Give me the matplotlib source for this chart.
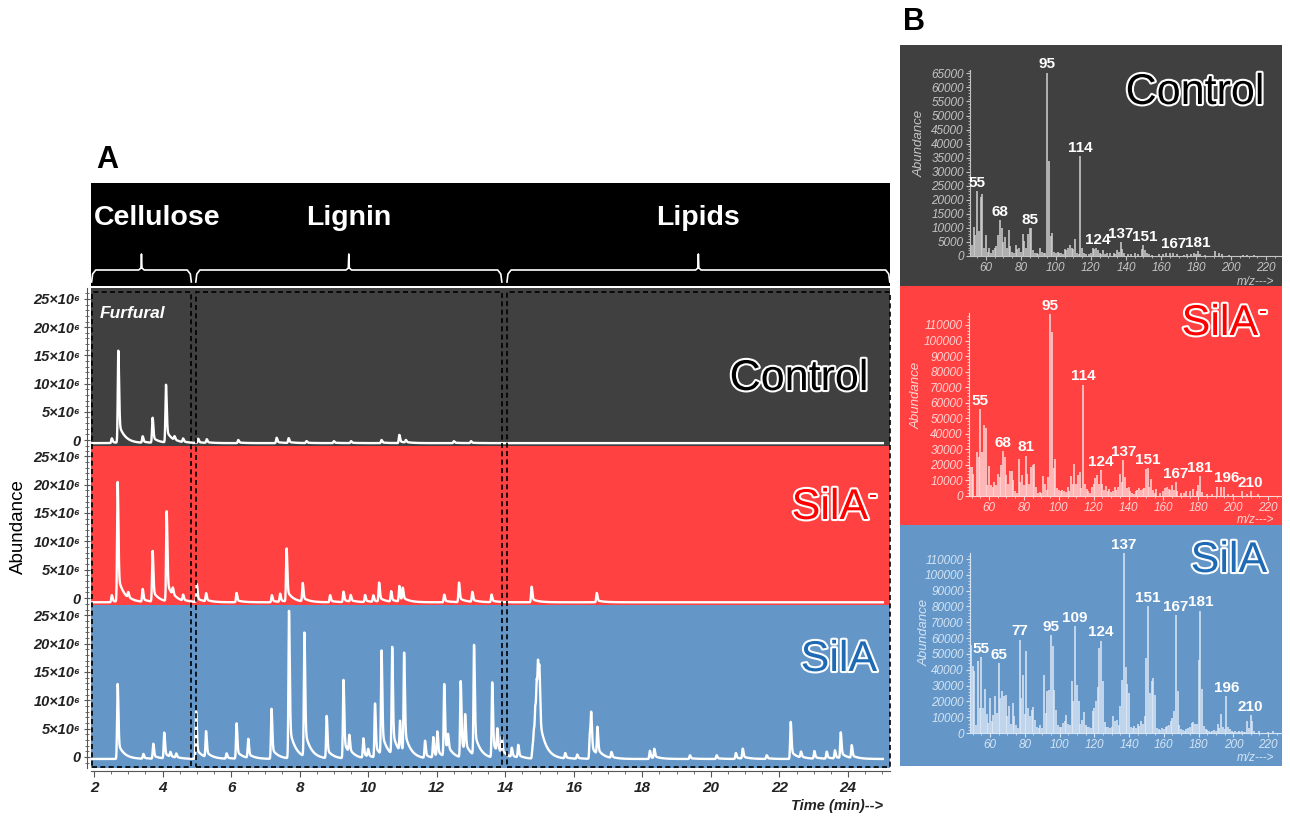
import numpy as np
import matplotlib.pyplot as plt
import matplotlib.patheffects as pe
from matplotlib.patches import Rectangle
from matplotlib.ticker import MultipleLocator

plt.rcParams['font.family'] = ['Liberation Sans', 'DejaVu Sans']

# ---------------- A: total ion chromatograms ----------------
# retention time (min) and apex abundance (x10^6) of the peaks
control_rt = [2.52, 2.71, 3.42, 3.71, 4.10, 4.35, 4.60, 5.04, 5.29, 6.21, 7.33, 7.68,
              8.20, 9.00, 9.50, 10.39, 10.91, 11.10, 12.50, 13.00]
control_ab = [0.3, 15.8, 0.6, 3.9, 9.7, 0.1, 0.1, 0.2, 0.1, 0.0, 0.4, 0.3,
              -0.2, -0.2, -0.2, 0.0, 0.9, -0.1, -0.2, -0.2]

silam_rt = [2.52, 2.69, 3.00, 3.42, 3.71, 4.12, 4.30, 4.60, 5.00, 5.27, 6.16, 7.19,
            7.43, 7.62, 8.09, 8.89, 9.28, 9.49, 9.91, 10.15, 10.32, 10.67, 10.91,
            11.01, 12.22, 12.65, 13.04, 13.60, 14.77, 16.67]
silam_ab = [0.5, 20.4, 0.2, 1.5, 8.2, 15.1, 0.5, 0.3, 2.4, 0.7, 0.9, 0.5,
            0.7, 8.6, 2.5, 0.5, 1.1, 0.4, 0.5, 0.4, 2.6, 1.1, 2.0,
            1.4, 0.6, 2.7, 1.0, 0.6, 2.0, 0.9]

sila_rt = [2.69, 3.44, 3.73, 4.05, 4.23, 4.40, 4.98, 5.27, 5.87, 6.16, 6.50, 7.18,
           7.69, 8.14, 8.79, 9.28, 9.45, 9.86, 10.00, 10.20, 10.39, 10.70, 10.93,
           11.05, 11.66, 11.90, 12.02, 12.22, 12.33, 12.70, 12.83, 13.09, 13.62,
           13.77, 13.90, 14.19, 14.38, 14.80, 14.84, 14.88, 14.92, 14.96, 15.00,
           15.75, 16.10, 16.47, 16.51, 16.69, 17.10, 18.22, 18.35, 19.39, 20.17,
           20.73, 20.93, 21.63, 22.33, 22.63, 23.02, 23.38, 23.62, 23.79, 24.11]
sila_ab = [12.9, 0.5, 2.3, 4.2, 0.5, 0.4, 8.0, 4.2, 0.6, 5.9, 3.0, 8.5,
           25.7, 21.5, 7.1, 13.5, 2.7, 3.1, 1.0, 9.2, 18.0, 18.6, 5.0,
           17.1, 2.7, 3.3, 4.0, 12.4, 2.3, 13.1, 6.0, 19.1, 12.9,
           3.7, 2.5, 1.3, 1.9, 2.0, 4.0, 7.0, 10.0, 11.5, 9.0,
           0.6, 0.4, 4.0, 6.5, 4.5, 0.7, 1.1, 1.3, 0.3, 0.3,
           0.7, 1.4, 0.3, 6.2, 0.7, 1.0, 0.9, 1.1, 4.2, 1.9]

baselines = [-0.55e6, -0.75e6, -0.35e6]

region_names = ['Cellulose', 'Lignin', 'Lipids']
region_start = [1.93, 4.97, 14.05]
region_end = [4.84, 13.90, 25.22]

abund_ticks = [0, 5e6, 10e6, 15e6, 20e6, 25e6]
abund_labels = ['0', '5×10⁶', '10×10⁶', '15×10⁶', '20×10⁶', '25×10⁶']

# ---------------- B: mass spectra ----------------
ctrl_mz = [51, 52, 53, 54, 55, 56, 57, 58, 59, 60, 61, 62, 63, 64, 65, 66, 67, 68, 69, 70,
           71, 72, 73, 74, 75, 76, 77, 78, 79, 80, 81, 82, 83, 84, 85, 86, 87, 88, 89, 90,
           91, 92, 93, 94, 95, 96, 97, 98, 99, 100, 101, 102, 103, 104, 105, 106, 107, 108,
           109, 110, 111, 112, 113, 114, 115, 116, 117, 119, 120, 121, 122, 123, 124, 125,
           126, 127, 128, 129, 131, 133, 134, 135, 136, 137, 138, 139, 141, 143, 145, 147,
           149, 150, 151, 152, 153, 155, 159, 161, 163, 165, 167, 169, 173, 175, 177, 179,
           180, 181, 182, 185, 191, 193, 195, 199, 207, 209, 213]
ctrl_int = [5700, 4000, 10400, 7500, 23000, 9000, 21000, 22000, 3000, 7500, 1500, 3000,
            1200, 2000, 3000, 3500, 7500, 12800, 10000, 5000, 6800, 3000, 9200, 3500, 1500,
            1000, 4000, 2500, 3000, 1500, 7800, 5500, 3000, 8000, 9800, 9800, 2000, 1000,
            1200, 800, 2800, 1500, 1200, 1200, 65300, 33800, 7000, 8200, 1500, 1200, 1500,
            1200, 1000, 800, 2500, 2000, 2800, 4000, 3000, 2500, 6200, 1200, 800, 35500,
            3000, 1000, 800, 800, 1200, 2800, 2500, 2800, 2000, 1200, 800, 2000, 800, 1200,
            1000, 1000, 800, 2200, 1500, 5000, 2500, 1000, 600, 600, 1000, 800, 2500, 3800,
            2200, 1200, 600, 500, 600, 800, 1000, 1000, 1200, 600, 500, 800, 600, 1000, 800,
            1800, 800, 500, 1800, 1000, 600, 500, 500, 500, 300]
ctrl_labels = [55, 68, 85, 95, 114, 124, 137, 151, 167, 181]

silam_mz = [49, 50, 51, 53, 54, 55, 56, 57, 58, 59, 60, 61, 62, 63, 64, 65, 66, 67, 68,
            69, 70, 71, 72, 73, 74, 75, 76, 77, 78, 79, 80, 81, 82, 83, 84, 85, 86, 87, 88,
            89, 90, 91, 92, 93, 94, 95, 96, 97, 98, 99, 100, 101, 102, 103, 104, 105, 106,
            107, 108, 109, 110, 111, 112, 113, 114, 115, 116, 117, 118, 119, 120, 121, 122,
            123, 124, 125, 126, 127, 128, 129, 130, 131, 132, 133, 134, 135, 136, 137, 138,
            139, 140, 141, 142, 143, 144, 145, 146, 147, 148, 149, 150, 151, 152, 153, 154,
            155, 156, 158, 160, 161, 162, 163, 164, 165, 166, 167, 168, 170, 172, 173, 175,
            177, 179, 180, 181, 182, 185, 188, 191, 193, 195, 197, 200, 205, 208, 210, 214]
silam_int = [18700, 18700, 14400, 28400, 25100, 55800, 28400, 45500, 43800, 7300, 19100,
             7000, 5500, 9000, 6900, 14400, 12200, 19800, 29000, 25100, 13300, 8000, 15900,
             15900, 10000, 3500, 2000, 23600, 9000, 13300, 7000, 25800, 14400, 8000, 18700,
             19800, 20800, 5500, 2000, 2500, 2000, 12900, 8000, 4000, 12200, 116800, 105700,
             18000, 24000, 5000, 4000, 3500, 4000, 3500, 2500, 5500, 3500, 12900, 8000,
             20800, 8000, 13300, 15500, 5000, 71700, 8000, 4500, 3000, 2000, 5500, 8000,
             11600, 13300, 8000, 16500, 7500, 4000, 6500, 3000, 4500, 2500, 3500, 5500, 4000,
             5500, 14400, 9000, 23000, 12200, 5000, 5500, 3000, 2000, 1500, 3500, 4000, 5000,
             4000, 4500, 5000, 17200, 18000, 6000, 10700, 4000, 2000, 4500, 2000, 3500, 5000,
             5500, 4500, 4000, 7000, 4000, 9000, 3500, 2000, 2000, 3500, 3500, 4500, 3500,
             7300, 12900, 2500, 1500, 1500, 5500, 5500, 6000, 1500, 1500, 3500, 1500, 3000,
             1000]
silam_labels = [55, 68, 81, 95, 114, 124, 137, 151, 167, 181, 196, 210]

sila_mz = list(range(49, 213)) + [215, 220, 223]
sila_int = [55800, 42100, 39000, 5000, 45700, 15800, 47800, 15800, 28000, 12000, 6300,
            22100, 7400, 11600, 23200, 12600, 44200, 22100, 26800, 23200, 24200, 10500,
            16900, 6000, 19000, 10500, 5000, 3000, 59000, 22100, 36900, 12000, 51600, 15800,
            10500, 14700, 16200, 8400, 4000, 3000, 5000, 3000, 36900, 12600, 26300, 27400,
            61700, 54800, 27400, 14700, 5000, 4000, 3500, 6300, 7400, 11200, 6000, 5000,
            32700, 20400, 67400, 30500, 20400, 6000, 8000, 13100, 5000, 3500, 4000, 3000,
            14100, 15800, 20400, 28900, 53700, 58400, 32700, 7000, 4000, 3500, 3000, 4000,
            10500, 7500, 8000, 5000, 16900, 33700, 113800, 41500, 31000, 25300, 4000, 3000,
            4500, 3000, 6000, 4500, 7500, 5500, 10500, 47400, 80100, 25300, 32700, 34800,
            24200, 3000, 2500, 2000, 3000, 2500, 4000, 4500, 5000, 7400, 9500, 13700, 74400,
            26800, 5000, 2500, 2000, 1500, 2500, 3000, 3500, 6300, 7000, 6000, 6000, 46400,
            77300, 28000, 4500, 2500, 2000, 1500, 800, 1500, 2000, 1500, 5700, 3000, 12000,
            3500, 2500, 23200, 4000, 2500, 1500, 600, 1000, 600, 1500, 600, 1000, 600, 600,
            7400, 3000, 11200, 7400, 1500, 1000, 800, 1500]
sila_labels = [55, 65, 77, 95, 109, 124, 137, 151, 167, 181, 196, 210]

sample_names = ['Control', 'SilA', 'SilA']
sample_sup = ['', '-', '']
panel_colors = ['#404040', '#ff4141', '#6497c8']
name_fill = ['black', '#ff0000', '#1f6ab4']
b_tick_colors = ['#c4c4c4', '#ffd4d4', '#d4e4f4']
b_bar_colors = ['#d2d2d2', '#ffdada', '#dde9f6']

W, H = 1290, 816


def rect(x0, y0, x1, y1):
    return [x0 / W, 1 - y1 / H, (x1 - x0) / W, (y1 - y0) / H]


def trace(t, rts, abs_, base):
    y = np.full_like(t, base)
    for rt, ab in zip(rts, abs_):
        h = ab * 1e6 - base
        dt = t - rt
        rise = np.exp(-0.5 * (dt / 0.016) ** 2)
        fall = 0.78 * np.exp(-0.5 * (dt / 0.022) ** 2) + 0.22 * np.exp(-np.clip(dt, 0, None) / 0.18)
        y += h * np.where(dt < 0, rise, fall)
    return y


outline = [pe.withStroke(linewidth=3, foreground='white')]

fig = plt.figure(figsize=(W / 100, H / 100), dpi=100)

xlim_a = (1.9125, 25.227)
t = np.arange(1.95, 25.02, 0.003)
rows = [(288, 446), (446, 605), (605, 768)]
ylims = [(-1.06e6, 26.95e6), (-1.23e6, 26.8e6), (-1.94e6, 26.8e6)]
chroms = [(control_rt, control_ab), (silam_rt, silam_ab), (sila_rt, sila_ab)]

for i in range(3):
    ax = fig.add_axes(rect(91, rows[i][0], 890, rows[i][1]))
    ax.set_facecolor(panel_colors[i])
    ax.plot(t, trace(t, chroms[i][0], chroms[i][1], baselines[i]), color='white', lw=1.7)
    ax.set_xlim(*xlim_a)
    ax.set_ylim(*ylims[i])
    ax.spines['top'].set_visible(False)
    ax.spines['right'].set_visible(False)
    ax.spines['left'].set_position(('outward', 3))
    ax.spines['left'].set_color('#555555')
    ax.set_yticks(abund_ticks)
    ax.set_yticklabels(abund_labels, fontsize=10.5, fontweight='bold', fontstyle='italic', color='#222222')
    ax.yaxis.set_minor_locator(MultipleLocator(1e6))
    ax.tick_params(axis='y', which='major', direction='inout', length=5, width=0.8, color='#555555', pad=2)
    ax.tick_params(axis='y', which='minor', direction='inout', length=2.5, width=0.6, color='#555555')
    if i < 2:
        ax.spines['bottom'].set_visible(False)
        ax.tick_params(axis='x', which='both', bottom=False, labelbottom=False)
    else:
        ax.spines['bottom'].set_position(('outward', 2))
        ax.spines['bottom'].set_color('#555555')
        ax.xaxis.set_major_locator(MultipleLocator(2))
        ax.xaxis.set_minor_locator(MultipleLocator(0.5))
        ax.tick_params(axis='x', which='major', length=4, width=0.8, color='#555555', pad=3,
                       labelsize=11)
        ax.tick_params(axis='x', which='minor', length=2, width=0.6, color='#555555')
        for lab in ax.get_xticklabels():
            lab.set_fontweight('bold')
            lab.set_fontstyle('italic')
            lab.set_color('#222222')

# dashed boxes around the three regions
ov = fig.add_axes(rect(91, 288, 890, 768))
ov.set_xlim(*xlim_a)
ov.set_ylim(0, 1)
ov.axis('off')
for a, b in zip(region_start, region_end):
    ov.add_patch(Rectangle((a, 0.0015), b - a, 0.9908, fill=False, ec='black', lw=1.2,
                           ls=(0, (3, 2)), clip_on=False))

# header with braces
hd = fig.add_axes(rect(91, 183, 890, 286))
hd.set_facecolor('black')
hd.set_xlim(*xlim_a)
hd.set_ylim(0, 103)
hd.set_xticks([])
hd.set_yticks([])
for s in hd.spines.values():
    s.set_visible(False)
for k, (name, a, b) in enumerate(zip(region_names, region_start, region_end)):
    c = (a + b) / 2
    bx = [a, a + 0.03, a + 0.12, c - 0.08, c - 0.015, c, c + 0.015, c + 0.08, b - 0.12, b - 0.03, b]
    by = [4, 12, 16, 16, 18, 32, 18, 16, 16, 12, 4]
    hd.plot(bx, by, color='white', lw=1.2)
    if k == 0:
        hd.text(a + 0.07, 68, name, ha='left', va='center', color='white', fontsize=20.5, fontweight='bold')
    else:
        hd.text(c, 68, name, ha='center', va='center', color='white', fontsize=20.5, fontweight='bold')

fig.text(96 / W, 1 - 160 / H, 'A', fontsize=22, fontweight='bold', ha='left', va='center')
fig.text(18 / W, 1 - 527 / H, 'Abundance', rotation=90, fontsize=13.5, ha='center', va='center')
fig.text(883 / W, 1 - 806 / H, 'Time (min)-->', fontsize=10.5, fontweight='bold', fontstyle='italic',
         ha='right', va='center', color='#222222')
fig.text(100 / W, 1 - 318 / H, 'Furfural', fontsize=12.5, fontweight='bold', fontstyle='italic',
         color='white', ha='left', va='baseline')

a_name_pos = [(868, 390), (868, 519), (877, 671)]
for i in range(3):
    x, y = a_name_pos[i]
    fig.text(x / W, 1 - y / H, sample_names[i], fontsize=31, color=name_fill[i], ha='right',
             va='baseline', path_effects=outline)
    if sample_sup[i]:
        fig.text((x + 1) / W, 1 - (y - 16) / H, sample_sup[i], fontsize=18, color=name_fill[i],
                 ha='left', va='baseline', path_effects=outline)

# ---------------- panel B ----------------
b_rows = [(45, 286), (286, 525), (525, 766)]
b_axes = [(970, 70, 1281, 256), (969, 313, 1282, 496), (970, 553, 1282, 733)]
b_ytop = [66200, 117700, 113800]
b_xlims = [(51, 228.5), (48.5, 228), (48.5, 228)]
b_yticks = [list(range(0, 65001, 5000)), list(range(0, 110001, 10000)), list(range(0, 110001, 10000))]
spectra = [(ctrl_mz, ctrl_int, ctrl_labels), (silam_mz, silam_int, silam_labels),
           (sila_mz, sila_int, sila_labels)]
b_abund_pos = [(920, 143), (917, 395), (925, 632)]
b_mz_y = [282, 520, 758]
b_name_pos = [(1264, 104), (1258, 335), (1267, 572)]

fig.text(903 / W, 1 - 22 / H, 'B', fontsize=22, fontweight='bold', ha='left', va='center')

for i in range(3):
    bg = fig.add_axes(rect(900, b_rows[i][0], 1282, b_rows[i][1]))
    bg.set_facecolor(panel_colors[i])
    bg.set_xticks([])
    bg.set_yticks([])
    for s in bg.spines.values():
        s.set_visible(False)

    mz, inten, labs = spectra[i]
    tc = b_tick_colors[i]
    ax = fig.add_axes(rect(*b_axes[i]))
    ax.patch.set_alpha(0)
    ax.vlines(mz, 0, inten, color=b_bar_colors[i], lw=1.1)
    ax.set_xlim(*b_xlims[i])
    ax.set_ylim(0, b_ytop[i])
    ax.spines['top'].set_visible(False)
    ax.spines['right'].set_visible(False)
    ax.spines['left'].set_color(tc)
    ax.spines['bottom'].set_color(tc)
    ax.set_xticks(list(range(60, 221, 20)), labels=[str(v) for v in range(60, 221, 20)],
                  fontstyle='italic', fontsize=8.5, color=tc)
    ax.set_yticks(b_yticks[i], labels=[str(v) for v in b_yticks[i]],
                  fontstyle='italic', fontsize=8.5, color=tc)
    ax.xaxis.set_minor_locator(MultipleLocator(5))
    ax.yaxis.set_minor_locator(MultipleLocator(b_yticks[i][1] / 5))
    ax.tick_params(which='major', colors=tc, length=3, width=0.8, pad=1.5)
    ax.tick_params(which='minor', colors=tc, length=1.5, width=0.6)

    for m in labs:
        near = max(v for q, v in zip(mz, inten) if abs(q - m) <= 1)
        ax.annotate(str(m), (m, near), xytext=(0, 1), textcoords='offset points', ha='center',
                    va='bottom', fontsize=11, fontweight='bold', color='white', annotation_clip=False)

    x, y = b_abund_pos[i]
    fig.text(x / W, 1 - y / H, 'Abundance', rotation=90, fontsize=9.5, fontstyle='italic',
             color=tc, ha='center', va='center')
    fig.text(1274 / W, 1 - b_mz_y[i] / H, 'm/z--->', fontsize=8.5, fontstyle='italic',
             color=tc, ha='right', va='center')

    x, y = b_name_pos[i]
    fig.text(x / W, 1 - y / H, sample_names[i], fontsize=31, color=name_fill[i], ha='right',
             va='baseline', path_effects=outline)
    if sample_sup[i]:
        fig.text((x + 1) / W, 1 - (y - 16) / H, sample_sup[i], fontsize=18, color=name_fill[i],
                 ha='left', va='baseline', path_effects=outline)

fig.savefig('out.png', dpi=100)
